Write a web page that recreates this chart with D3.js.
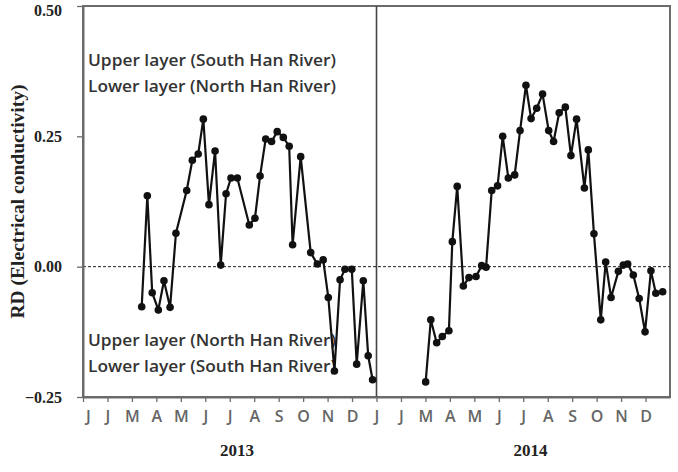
<!DOCTYPE html>
<html>
<head>
<meta charset="utf-8">
<script src="https://cdn.jsdelivr.net/npm/d3@7"></script>
<style>
  body { margin: 0; background: #fff; }
  svg { display: block; }
</style>
</head>
<body>
<svg id="chart"></svg>
<script>
// month labels as printed on the figure (F is shown as J)
let monthLabels = ["J", "J", "M", "A", "M", "J", "J", "A", "S", "O", "N", "D"]
let years = [2013, 2014]
let yTicks = [-0.25, 0, 0.25, 0.5]

// position within the year in months (0 = start of Jan), RD value
let month2013 = [2.40, 2.63, 2.83, 3.08, 3.31, 3.56, 3.80, 4.24, 4.47, 4.71, 4.92, 5.15, 5.40, 5.63,
  5.85, 6.05, 6.31, 6.80, 7.03, 7.24, 7.47, 7.71, 7.94, 8.19, 8.43, 8.57, 8.90, 9.31, 9.58, 9.82,
  10.03, 10.28, 10.51, 10.71, 10.99, 11.19, 11.46, 11.66, 11.84]
let rd2013 = [-0.077, 0.136, -0.050, -0.083, -0.027, -0.078, 0.064, 0.146, 0.204, 0.216, 0.283, 0.119, 0.222, 0.003,
  0.140, 0.170, 0.170, 0.080, 0.093, 0.174, 0.245, 0.240, 0.259, 0.248, 0.231, 0.042, 0.211, 0.027, 0.005, 0.013,
  -0.059, -0.200, -0.025, -0.005, -0.005, -0.187, -0.027, -0.171, -0.217]

let month2014 = [2.01, 2.22, 2.46, 2.69, 2.96, 3.10, 3.30, 3.55, 3.78, 4.07, 4.30, 4.48, 4.71, 4.95,
  5.16, 5.39, 5.65, 5.87, 6.11, 6.32, 6.55, 6.79, 7.04, 7.24, 7.47, 7.72, 7.95, 8.18, 8.50, 8.66,
  8.89, 9.17, 9.37, 9.59, 9.89, 10.09, 10.27, 10.50, 10.74, 10.98, 11.22, 11.42, 11.70]
let rd2014 = [-0.221, -0.102, -0.146, -0.134, -0.123, 0.048, 0.154, -0.037, -0.021, -0.019, 0.002, -0.001, 0.146, 0.155,
  0.250, 0.170, 0.176, 0.261, 0.348, 0.284, 0.304, 0.331, 0.261, 0.240, 0.295, 0.306, 0.213, 0.283, 0.151, 0.224,
  0.063, -0.102, 0.009, -0.059, -0.009, 0.003, 0.005, -0.016, -0.061, -0.125, -0.008, -0.051, -0.048]

let width = 678
let height = 472
let padLeft = 83, padRight = 670, padTop = 6, padBottom = 397

let svg = d3.select("#chart")
svg.attr("width", width).attr("height", height)

let xScale = d3.scaleLinear().domain([0, 24]).range([padLeft, padRight])
let yScale = d3.scaleLinear().domain([-0.25, 0.5]).range([padBottom, padTop])

let series = [
  { offset: 0, pts: month2013.map((m, i) => [m, rd2013[i]]) },
  { offset: 12, pts: month2014.map((m, i) => [m, rd2014[i]]) }
]

// frame
svg.append("rect")
  .attr("x", padLeft).attr("y", padTop)
  .attr("width", padRight - padLeft).attr("height", padBottom - padTop)
  .attr("fill", "none").attr("stroke", "#6b6b6b").attr("stroke-width", 2)

// year divider
svg.append("line")
  .attr("x1", xScale(12)).attr("x2", xScale(12))
  .attr("y1", padTop).attr("y2", padBottom)
  .attr("stroke", "#444").attr("stroke-width", 1.6)

// zero line
svg.append("line")
  .attr("x1", padLeft).attr("x2", padRight)
  .attr("y1", yScale(0)).attr("y2", yScale(0))
  .attr("stroke", "#222").attr("stroke-width", 1)
  .attr("stroke-dasharray", "3,2")

// axes
let xAxis = d3.axisBottom(xScale)
  .tickValues(d3.range(0, 24))
  .tickFormat(i => monthLabels[i % 12])
  .tickSizeInner(5).tickSizeOuter(0).tickPadding(9)

let gx = svg.append("g")
  .attr("transform", "translate(0," + padBottom + ")")
  .call(xAxis)
gx.select(".domain").attr("stroke", "#6b6b6b").attr("stroke-width", 2)
gx.selectAll(".tick line").attr("stroke", "#6b6b6b").attr("stroke-width", 1.3)
gx.selectAll(".tick text")
  .attr("font-family", "'Open Sans', Lato, sans-serif")
  .attr("font-weight", "600")
  .attr("font-size", 16)
  .attr("fill", "#666")
  .attr("dx", (d, i) => i === 0 ? 5 : 0)

let yAxis = d3.axisLeft(yScale)
  .tickValues(yTicks)
  .tickFormat(d3.format(".2f"))
  .tickSizeInner(6).tickSizeOuter(0).tickPadding(15)

let gy = svg.append("g")
  .attr("transform", "translate(" + padLeft + ",0)")
  .call(yAxis)
gy.select(".domain").attr("stroke", "#6b6b6b").attr("stroke-width", 2)
gy.selectAll(".tick line").attr("stroke", "#6b6b6b").attr("stroke-width", 1.3)
gy.selectAll(".tick text")
  .attr("font-family", "'Liberation Serif', 'Times New Roman', serif")
  .attr("font-weight", "bold")
  .attr("font-size", 16)
  .attr("fill", "#222")
  .attr("dy", d => d === 0.5 ? "0.62em" : "0.32em")

// year labels
svg.selectAll(".year")
  .data(years)
  .enter()
  .append("text")
  .attr("class", "year")
  .attr("x", (d, i) => xScale(i * 12 + 6.3))
  .attr("y", 456)
  .attr("text-anchor", "middle")
  .attr("font-family", "'Liberation Serif', 'Times New Roman', serif")
  .attr("font-weight", "bold")
  .attr("font-size", 17)
  .attr("fill", "#222")
  .text(d => d)

// y title
svg.append("text")
  .attr("transform", "translate(24," + yScale(0.125) + ") rotate(-90)")
  .attr("text-anchor", "middle")
  .attr("font-family", "'Liberation Serif', 'Times New Roman', serif")
  .attr("font-weight", "bold")
  .attr("font-size", 19.5)
  .attr("fill", "#222")
  .text("RD (Electrical conductivity)")

// annotations
let notes = [
  ["Upper layer (South Han River)", 66],
  ["Lower layer (North Han River)", 92],
  ["Upper layer (North Han River)", 346],
  ["Lower layer (South Han River)", 372]
]
svg.selectAll(".note")
  .data(notes)
  .enter()
  .append("text")
  .attr("class", "note")
  .attr("x", 88)
  .attr("y", d => d[1])
  .attr("font-family", "'Open Sans', Lato, sans-serif")
  .attr("font-weight", "600")
  .attr("font-size", 16.5)
  .attr("textLength", 248)
  .attr("lengthAdjust", "spacingAndGlyphs")
  .attr("fill", "#333")
  .text(d => d[0])

// lines and points
let line = d3.line()
  .x(d => xScale(d.offset + d.m))
  .y(d => yScale(d.v))

series.forEach(s => {
  let pts = s.pts.map(p => ({ offset: s.offset, m: p[0], v: p[1] }))
  svg.append("path")
    .datum(pts)
    .attr("d", line)
    .attr("fill", "none")
    .attr("stroke", "#111")
    .attr("stroke-width", 2.2)
  svg.append("g")
    .selectAll("circle")
    .data(pts)
    .enter()
    .append("circle")
    .attr("cx", d => xScale(d.offset + d.m))
    .attr("cy", d => yScale(d.v))
    .attr("r", 3.8)
    .attr("fill", "#111")
})
</script>
</body>
</html>
